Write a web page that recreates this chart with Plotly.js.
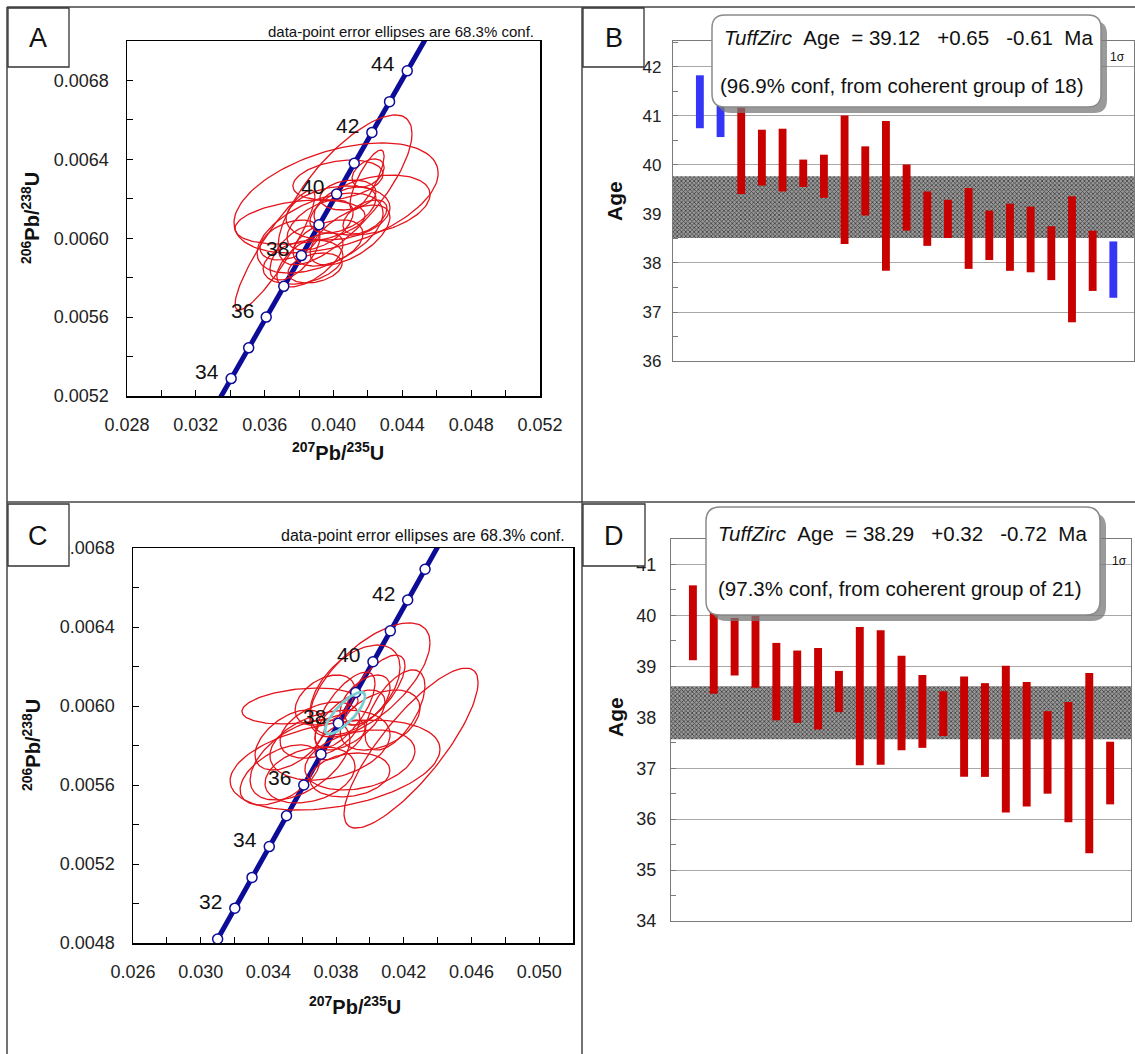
<!DOCTYPE html>
<html><head><meta charset="utf-8">
<script src="https://cdn.plot.ly/plotly-3.0.1.min.js"></script>
<style>html,body{margin:0;padding:0;background:#fff}#chart{width:1135px;height:1054px}</style>
</head><body><div id="chart"></div>
<script>
const FONT = 'Liberation Sans, Arial, sans-serif';
const W = 1135, H = 1054;

// ---- Concordia (age in Ma, 207Pb/235U, 206Pb/238U) ----
const concAge = [31,32,33,34,35,36,37,38,39,40,41,42,43,44,45];
const conc207 = [0.0310012,0.0320169,0.0330338,0.0340524,0.0350710,0.0360906,0.0371115,0.0381334,0.0391563,0.0401803,0.0412052,0.0422311,0.0432580,0.0442860,0.0453151];
const conc206 = [0.0048204,0.0049763,0.0051322,0.0052882,0.0054441,0.0056001,0.0057561,0.0059121,0.0060682,0.0062243,0.0063804,0.0065365,0.0066926,0.0068488,0.0070050];

// ---- Panel A ellipses (centre, half-extent x, half-extent y, correlation) ----
const A_cx  = [0.04015,0.04067,0.04224,0.03660,0.03805,0.03922,0.04026,0.03823,0.04026,0.04201,0.03922,0.03776,0.03968,0.04055,0.03863,0.04183,0.03893,0.04084,0.04195,0.03747,0.04096];
const A_cy  = [0.006204,0.006245,0.006168,0.005940,0.006082,0.006026,0.006128,0.005879,0.006295,0.006331,0.006067,0.005925,0.005976,0.006143,0.005890,0.006108,0.005849,0.006219,0.006295,0.005991,0.006016];
const A_hx  = [0.00593,0.00389,0.00337,0.00232,0.00378,0.00366,0.00302,0.00232,0.00262,0.00093,0.00192,0.00145,0.00203,0.00192,0.00192,0.00128,0.00157,0.00163,0.00099,0.00174,0.00232];
const A_hy  = [0.000279,0.000380,0.000152,0.000304,0.000112,0.000203,0.000137,0.000112,0.000101,0.000071,0.000127,0.000137,0.000117,0.000117,0.000137,0.000086,0.000076,0.000076,0.000152,0.000101,0.000152];
const A_rho = [0.45,0.75,0.35,0.9,0.3,0.5,0.2,0.3,0.3,0.4,0.5,0.6,0.4,0.5,0.6,0.5,0.3,0.2,0.8,0.4,0.6];

// ---- Panel C ellipses ----
const C_cx  = [0.04243,0.03794,0.03587,0.04000,0.03912,0.03764,0.03587,0.03882,0.03705,0.03971,0.03853,0.03646,0.04060,0.03528,0.03823,0.03941,0.03735,0.04030,0.03469,0.04148,0.03882];
const C_cy  = [0.005787,0.005701,0.006000,0.006132,0.006081,0.005802,0.005727,0.005929,0.005878,0.006030,0.005980,0.005651,0.005929,0.005828,0.005828,0.005727,0.006030,0.006081,0.005651,0.005980,0.005651];
const C_hx  = [0.00396,0.00620,0.00343,0.00355,0.00266,0.00355,0.00295,0.00207,0.00236,0.00148,0.00177,0.00266,0.00236,0.00207,0.00148,0.00325,0.00177,0.00177,0.00236,0.00177,0.00236];
const C_hy  = [0.000405,0.000228,0.000091,0.000289,0.000228,0.000177,0.000203,0.000152,0.000142,0.000127,0.000192,0.000142,0.000152,0.000152,0.000101,0.000152,0.000127,0.000177,0.000152,0.000203,0.000111];
const C_rho = [0.82,0.35,0.3,0.65,0.5,0.3,0.5,0.6,0.4,0.5,0.7,0.3,0.4,0.5,0.6,0.3,0.4,0.7,0.5,0.6,0.2];
const C_mean = {cx:0.03853, cy:0.005964, hx:0.00118, hy:0.000106, rho:0.8};

// ---- Panel B ages (1 sigma) ----
const B_low  = [40.75,40.57,39.41,39.58,39.46,39.55,39.33,38.39,38.97,37.84,38.66,38.35,38.51,37.88,38.06,37.84,37.81,37.65,36.79,37.43,37.29];
const B_high = [41.83,41.70,41.40,40.72,40.74,40.11,40.21,41.01,40.38,40.90,40.01,39.46,39.29,39.53,39.07,39.21,39.15,38.75,39.36,38.66,38.44];
const B_rejected = [1,1,0,0,0,0,0,0,0,0,0,0,0,0,0,0,0,0,0,0,1];
const B_age = 39.12, B_plus = 0.65, B_minus = 0.61;

// ---- Panel D ages (1 sigma) ----
const D_low  = [39.12,38.46,38.82,38.58,37.94,37.89,37.76,38.10,37.06,37.07,37.35,37.40,37.63,36.83,36.83,36.13,36.25,36.50,35.94,35.33,36.29];
const D_high = [40.59,40.25,39.95,40.10,39.46,39.31,39.36,38.91,39.77,39.71,39.21,38.83,38.51,38.80,38.67,39.01,38.69,38.12,38.30,38.87,37.52];
const D_age = 38.29, D_plus = 0.32, D_minus = 0.72;

// ---------------------------------------------------------------
const PX = x => x / W, PY = y => 1 - y / H;

function ellipses(cx, cy, hx, hy, rho) {
  const xs = [], ys = [];
  for (let k = 0; k < cx.length; k++) {
    const s = Math.sqrt(1 - rho[k] * rho[k]);
    for (let i = 0; i <= 120; i++) {
      const t = 2 * Math.PI * i / 120;
      xs.push(cx[k] + hx[k] * Math.cos(t));
      ys.push(cy[k] + hy[k] * (rho[k] * Math.cos(t) + s * Math.sin(t)));
    }
    xs.push(null); ys.push(null);
  }
  return {x: xs, y: ys};
}
function pick(arr, lo, hi) { return arr.filter((v, i) => concAge[i] >= lo && concAge[i] <= hi); }

const NAVY = '#0c0c99', RED = '#e3141b';
const traces = [];

function concordia(xa, ya, lineLo, lineHi) {
  traces.push({type:'scatter', mode:'lines', x:pick(conc207,lineLo,lineHi), y:pick(conc206,lineLo,lineHi),
    xaxis:xa, yaxis:ya, line:{color:NAVY, width:5}, hoverinfo:'skip'});
}
function concMarkers(xa, ya, mLo, mHi) {
  traces.push({type:'scatter', mode:'markers', x:pick(conc207,mLo,mHi), y:pick(conc206,mLo,mHi),
    xaxis:xa, yaxis:ya, cliponaxis:false,
    marker:{symbol:'circle', size:10, color:'#ffffff', line:{color:NAVY, width:1.5}}, hoverinfo:'skip'});
}

// Panel A
concordia('x','y',33,45);
const eA = ellipses(A_cx, A_cy, A_hx, A_hy, A_rho);
traces.push({type:'scatter', mode:'lines', x:eA.x, y:eA.y, xaxis:'x', yaxis:'y', line:{color:RED, width:1.3}, hoverinfo:'skip'});
concMarkers('x','y',34,44);

// Panel C
concordia('x3','y3',31,45);
const eC = ellipses(C_cx, C_cy, C_hx, C_hy, C_rho);
traces.push({type:'scatter', mode:'lines', x:eC.x, y:eC.y, xaxis:'x3', yaxis:'y3', line:{color:RED, width:1.3}, hoverinfo:'skip'});
concMarkers('x3','y3',31,43);
const eM = ellipses([C_mean.cx],[C_mean.cy],[C_mean.hx],[C_mean.hy],[C_mean.rho]);
traces.push({type:'scatter', mode:'lines', x:eM.x, y:eM.y, xaxis:'x3', yaxis:'y3', line:{color:'#79cdd0', width:2.8}, hoverinfo:'skip'});

// Panel B / D bars
const bandPattern = {shape:'x', bgcolor:'#9a9a9a', fgcolor:'#3e3e3e', size:3, solidity:0.45};
function agePanel(xa, ya, low, high, rejected, age, plus, minus, xr) {
  traces.push({type:'bar', x:[(xr[0]+xr[1])/2], y:[plus+minus], base:[age-minus], width:[xr[1]-xr[0]],
    xaxis:xa, yaxis:ya, marker:{color:'#9a9a9a', line:{width:0}, pattern:bandPattern}, hoverinfo:'skip'});
  const idx = low.map((v,i)=>i+1);
  traces.push({type:'bar', x:idx, y:high.map((h,i)=>h-low[i]), base:low, width:0.38,
    xaxis:xa, yaxis:ya,
    marker:{color:rejected.map(r=>r? '#3535f5' : '#c80000'), line:{width:0}}, hoverinfo:'skip'});
}
const B_range = [-0.3, 22], D_range = [-0.05, 22];
agePanel('x2','y2',B_low,B_high,B_rejected,B_age,B_plus,B_minus,B_range);
agePanel('x4','y4',D_low,D_high,D_low.map(()=>0),D_age,D_plus,D_minus,D_range);

// ---- axes ----
const tickFont = {family:FONT, size:18, color:'#222'};
function concAxisX(dom, r, t0) {
  return {domain:dom, range:r, tick0:t0, dtick:0.004, tickformat:'.3f', showline:true, linecolor:'#000', linewidth:1.5,
    mirror:true, ticks:'inside', ticklen:6, tickcolor:'#000', showgrid:false, zeroline:false, tickfont:tickFont,
    ticklabelstandoff:12, minor:{dtick:0.002, ticks:'inside', ticklen:6, tickcolor:'#000', showgrid:false}, fixedrange:true};
}
function concAxisY(dom, r, t0) {
  return {domain:dom, range:r, tick0:t0, dtick:0.0004, tickformat:'.4f', showline:true, linecolor:'#000', linewidth:1.5,
    mirror:true, ticks:'inside', ticklen:6, tickcolor:'#000', showgrid:false, zeroline:false, tickfont:tickFont,
    ticklabelstandoff:13, minor:{dtick:0.0002, ticks:'inside', ticklen:6, tickcolor:'#000', showgrid:false}, fixedrange:true};
}
function ageAxisX(dom, r) {
  return {domain:dom, range:r, showticklabels:false, ticks:'', showline:true, mirror:true, linecolor:'#7a7a7a', linewidth:1.2,
    showgrid:false, zeroline:false, fixedrange:true};
}
function ageAxisY(dom, r, fs, so) {
  return {domain:dom, range:r, dtick:1, tick0:0, ticks:'inside', ticklen:5, tickcolor:'#7a7a7a', showline:true, mirror:true,
    linecolor:'#7a7a7a', linewidth:1.2, showgrid:true, gridcolor:'#a8a8a8', gridwidth:1, zeroline:false,
    tickfont:{family:FONT, size:fs, color:'#222'}, ticklabelstandoff:so,
    minor:{dtick:0.5, ticks:'inside', ticklen:5, tickcolor:'#7a7a7a', showgrid:false}, fixedrange:true};
}

// ---- decorations ----
function rrPath(x0,y0,x1,y1,r){
  const p=(x,y)=>PX(x).toFixed(5)+','+PY(y).toFixed(5);
  return `M${p(x0+r,y0)} L${p(x1-r,y0)} Q${p(x1,y0)} ${p(x1,y0+r)} L${p(x1,y1-r)} Q${p(x1,y1)} ${p(x1-r,y1)} L${p(x0+r,y1)} Q${p(x0,y1)} ${p(x0,y1-r)} L${p(x0,y0+r)} Q${p(x0,y0)} ${p(x0+r,y0)} Z`;
}
const shapes = [];
function line(x0,y0,x1,y1,c,w){ shapes.push({type:'line', xref:'paper', yref:'paper', x0:PX(x0), y0:PY(y0), x1:PX(x1), y1:PY(y1), line:{color:c||'#444', width:w||1.5}}); }
function rect(x0,y0,x1,y1){ shapes.push({type:'rect', xref:'paper', yref:'paper', x0:PX(x0), y0:PY(y0), x1:PX(x1), y1:PY(y1), fillcolor:'#fff', line:{color:'#333', width:1.3}}); }
function textBox(x0,y0,x1,y1,r){
  shapes.push({type:'path', xref:'paper', yref:'paper', path:rrPath(x0+6,y0+6,x1+6,y1+6,r), fillcolor:'rgba(120,120,120,0.75)', line:{width:0}});
  shapes.push({type:'path', xref:'paper', yref:'paper', path:rrPath(x0,y0,x1,y1,r), fillcolor:'#fff', line:{color:'#8a8a8a', width:1.5}});
}
// frame
line(7,7,1135,7,'#444',1.5);
line(7,7,7,1054,'#444',1.5);
line(582,7,582,1054,'#444',1.5);
line(7,502,1135,502,'#444',1.5);
// letter boxes
rect(8,8,69,67); rect(583,8,644,67); rect(8,504,69,566); rect(583,504,645,566);
// text boxes
textBox(712,15,1101,107,13);
textBox(706,507,1100,615,14);

const annotations = [];
function txt(x,y,text,size,opts){
  annotations.push(Object.assign({xref:'paper', yref:'paper', x:PX(x), y:PY(y), text:text, showarrow:false,
    font:{family:FONT, size:size, color:'#111'}, xanchor:'center', yanchor:'middle'}, opts||{}));
}
txt(38,38,'A',27); txt(614,38,'B',27); txt(38,536,'C',27); txt(614,536,'D',27);
txt(536,31,'data-point error ellipses are 68.3% conf.',15,{xanchor:'right'});
txt(567,535,'data-point error ellipses are 68.3% conf.',16,{xanchor:'right'});
const ttlX = '<b><sup>207</sup>Pb/<sup>235</sup>U</b>', ttlY = '<b><sup>206</sup>Pb/<sup>238</sup>U</b>';
txt(338,451,ttlX,20); txt(31,218,ttlY,20,{textangle:-90});
txt(355,1005,ttlX,20); txt(31,745,ttlY,20,{textangle:-90});
txt(615,201,'<b>Age</b>',21,{textangle:-90}); txt(615,717,'<b>Age</b>',21,{textangle:-90});
const sp = '\u00a0';
txt(722,37,'<i>TuffZirc</i>'+sp+sp+'Age'+sp+sp+'='+sp+B_age.toFixed(2)+sp+sp+sp+'+'+B_plus.toFixed(2)+sp+sp+sp+'-'+B_minus.toFixed(2)+sp+sp+'Ma',20.5,{xanchor:'left'});
txt(718,85,'(96.9% conf, from coherent group of 18)',20.5,{xanchor:'left'});
txt(716,533,'<i>TuffZirc</i>'+sp+sp+'Age'+sp+sp+'='+sp+D_age.toFixed(2)+sp+sp+sp+'+'+D_plus.toFixed(2)+sp+sp+sp+'-'+D_minus.toFixed(2)+sp+sp+'Ma',20.5,{xanchor:'left'});
txt(716,588,'(97.3% conf, from coherent group of 21)',20.5,{xanchor:'left'});
txt(1117,57,'1σ',12); txt(1119,561,'1σ',12);

// concordia age labels
function concLabels(xa, ya, ages){
  ages.forEach(a=>{
    const i = concAge.indexOf(a);
    annotations.push({xref:xa, yref:ya, x:conc207[i], y:conc206[i], text:String(a), showarrow:false,
      xshift:-24, yshift:7, font:{family:FONT, size:21, color:'#111'}, xanchor:'center', yanchor:'middle'});
  });
}
concLabels('x','y',[34,36,38,40,42,44]);
concLabels('x3','y3',[32,34,36,38,40,42]);

const layout = {
  width:W, height:H, margin:{l:0,r:0,t:0,b:0}, paper_bgcolor:'#fff', plot_bgcolor:'#fff',
  showlegend:false, barmode:'overlay', font:{family:FONT},
  xaxis: Object.assign(concAxisX([PX(127),PX(540)],[0.028,0.052],0.028),{anchor:'y'}),
  yaxis: Object.assign(concAxisY([PY(396),PY(41)],[0.0052,0.0070],0.0052),{anchor:'x'}),
  xaxis3: Object.assign(concAxisX([PX(133),PX(573)],[0.026,0.052],0.026),{anchor:'y3'}),
  yaxis3: Object.assign(concAxisY([PY(943),PY(548)],[0.0048,0.0068],0.0048),{anchor:'x3'}),
  xaxis2: Object.assign(ageAxisX([PX(673),PX(1134)],B_range),{anchor:'y2'}),
  yaxis2: Object.assign(ageAxisY([PY(361),PY(41)],[36,42.53],17,7),{anchor:'x2'}),
  xaxis4: Object.assign(ageAxisX([PX(671),PX(1131)],D_range),{anchor:'y4'}),
  yaxis4: Object.assign(ageAxisY([PY(921),PY(539)],[34,41.5],18,10),{anchor:'x4'}),
  shapes: shapes, annotations: annotations
};
Plotly.newPlot('chart', traces, layout, {staticPlot:true, displayModeBar:false});
</script></body></html>
